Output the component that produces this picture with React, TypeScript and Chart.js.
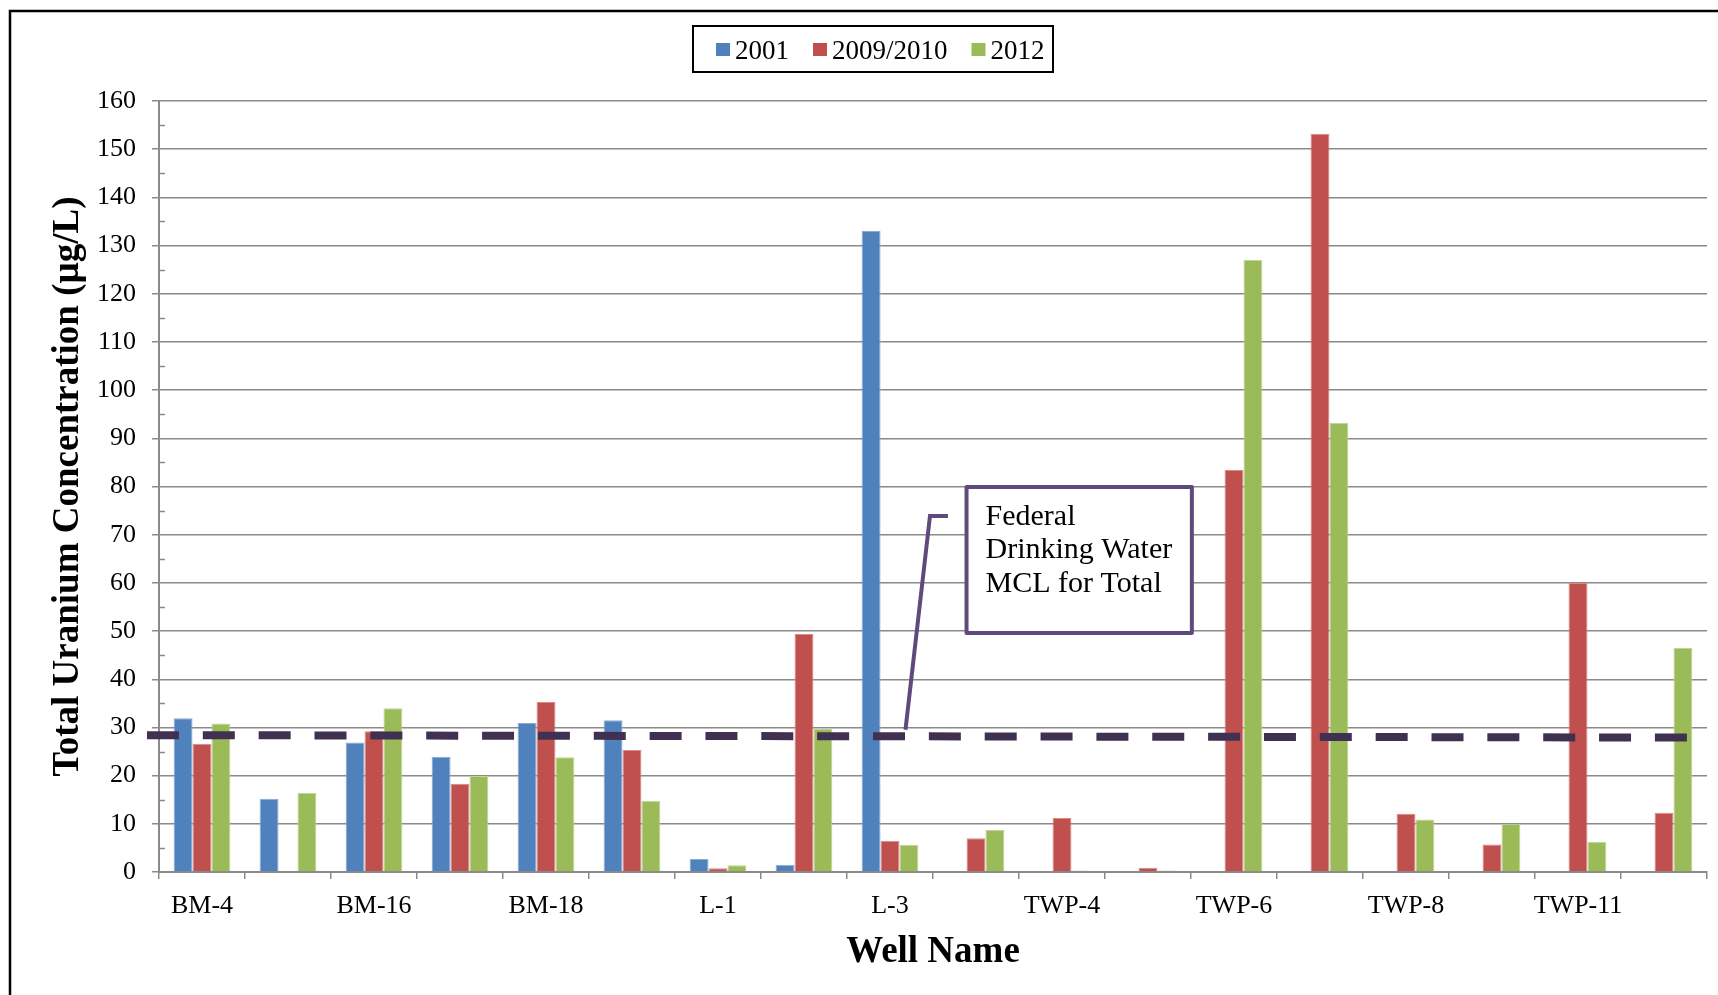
import React, { useEffect, useRef } from "react";
import { Chart, registerables } from "chart.js";

Chart.register(...registerables);

// ---------- data ----------
const WELLS = [
  "BM-4", "BM-8", "BM-16", "BM-17", "BM-18", "BM-19",
  "L-1", "L-2", "L-3", "TWP-3", "TWP-4", "TWP-5",
  "TWP-6", "TWP-7", "TWP-8", "TWP-10", "TWP-11", "TWP-12",
];
const SERIES_NAMES = ["2001", "2009/2010", "2012"];
const U_2001 = [31.9, 15.2, 26.9, 23.9, 30.9, 31.5, 2.7, 1.5, 133.0, null, null, null, null, null, null, null, null, null];
const U_2009 = [26.6, null, 29.2, 18.3, 35.3, 25.3, 0.8, 49.4, 6.5, 7.0, 11.2, 0.9, 83.4, 153.2, 12.1, 5.7, 60.0, 12.3];
const U_2012 = [30.8, 16.4, 34.0, 19.9, 23.8, 14.8, 1.4, 29.7, 5.6, 8.7, 0.3, 0.3, 127.0, 93.2, 10.9, 10.0, 6.3, 46.5];
const Y_MIN = 0;
const Y_MAX = 160;
const Y_STEP = 10;
// MCL dashed reference line (category-index units, value units)
const MCL_X = [-0.64, 17.31];
const MCL_Y = [28.4, 27.9];
// call-out annotation (category-index units, value units)
const NOTE_LINES = ["Federal", "Drinking Water", "MCL for Total"];
const NOTE_BOX_X = [8.89, 11.51];
const NOTE_BOX_Y = [79.9, 49.6];
const NOTE_LEADER_X = [8.674, 8.465, 8.18];
const NOTE_LEADER_Y = [73.9, 73.9, 29.5];

// ---------- styles ----------
const FONT = "'Liberation Serif', 'Times New Roman', serif";
const COLORS = ["#4f81bd", "#c0504d", "#9bbb59"];
const EDGES = ["#8eaad3", "#d98886", "#c0d596"];
const GRID = "#8a8a8a";
const PURPLE = "#604a7b";
const DASH = "#403152";

const decorPlugin = {
  id: "decor",
  beforeDraw(chart: any) {
    const { ctx, width, height } = chart;
    ctx.save();
    ctx.fillStyle = "#ffffff";
    ctx.fillRect(0, 0, width, height);
    ctx.restore();
  },
  afterDatasetsDraw(chart: any) {
    const { ctx, chartArea } = chart;
    const x = chart.scales.x;
    const y = chart.scales.y;
    ctx.save();
    // minor ticks (inside) at the 5s
    ctx.strokeStyle = GRID;
    ctx.lineWidth = 1.5;
    for (let v = Y_MIN + Y_STEP / 2; v < Y_MAX; v += Y_STEP) {
      const py = Math.round(y.getPixelForValue(v)) + 0.5;
      ctx.beginPath();
      ctx.moveTo(chartArea.left, py);
      ctx.lineTo(chartArea.left + 6, py);
      ctx.stroke();
    }
    // dashed MCL line
    ctx.strokeStyle = DASH;
    ctx.lineWidth = 8;
    ctx.lineCap = "butt";
    ctx.setLineDash([32, 23.85]);
    ctx.beginPath();
    ctx.moveTo(x.getPixelForValue(MCL_X[0]), y.getPixelForValue(MCL_Y[0]));
    ctx.lineTo(x.getPixelForValue(MCL_X[1]), y.getPixelForValue(MCL_Y[1]));
    ctx.stroke();
    ctx.setLineDash([]);

    // leader line of the call-out
    ctx.strokeStyle = PURPLE;
    ctx.lineWidth = 4;
    ctx.lineJoin = "miter";
    ctx.beginPath();
    NOTE_LEADER_X.forEach((xi, i) => {
      const px = x.getPixelForValue(xi);
      const py = y.getPixelForValue(NOTE_LEADER_Y[i]);
      if (i === 0) ctx.moveTo(px, py);
      else ctx.lineTo(px, py);
    });
    ctx.stroke();

    // call-out box
    const bx0 = x.getPixelForValue(NOTE_BOX_X[0]);
    const bx1 = x.getPixelForValue(NOTE_BOX_X[1]);
    const by0 = y.getPixelForValue(NOTE_BOX_Y[0]);
    const by1 = y.getPixelForValue(NOTE_BOX_Y[1]);
    ctx.fillStyle = "#ffffff";
    ctx.fillRect(bx0, by0, bx1 - bx0, by1 - by0);
    ctx.lineWidth = 4;
    ctx.strokeStyle = PURPLE;
    ctx.lineJoin = "round";
    ctx.strokeRect(bx0, by0, bx1 - bx0, by1 - by0);
    ctx.fillStyle = "#000000";
    ctx.font = `30px ${FONT}`;
    ctx.textAlign = "left";
    ctx.textBaseline = "alphabetic";
    NOTE_LINES.forEach((t, i) => {
      ctx.fillText(t, bx0 + 19, by0 + 38 + i * 33.5);
    });
    ctx.restore();
  },
  afterDraw(chart: any) {
    const { ctx, width, height } = chart;
    ctx.save();
    // legend with border
    const L = { left: 693, top: 26, right: 1053, bottom: 72 };
    ctx.fillStyle = "#ffffff";
    ctx.fillRect(L.left, L.top, L.right - L.left, L.bottom - L.top);
    ctx.strokeStyle = "#000000";
    ctx.lineWidth = 2;
    ctx.strokeRect(L.left, L.top, L.right - L.left, L.bottom - L.top);
    ctx.font = `27px ${FONT}`;
    ctx.textBaseline = "alphabetic";
    ctx.textAlign = "left";
    let cx = L.left + 23;
    chart.data.datasets.forEach((ds: any, i: number) => {
      ctx.fillStyle = COLORS[i];
      ctx.fillRect(cx, 43, 14, 13);
      cx += 19;
      ctx.fillStyle = "#000000";
      ctx.fillText(ds.label, cx, 59);
      cx += ctx.measureText(ds.label).width + 24;
    });
    // outer frame (left and top edges visible)
    ctx.strokeStyle = "#000000";
    ctx.lineWidth = 2.5;
    ctx.beginPath();
    ctx.moveTo(10, height + 5);
    ctx.lineTo(10, 11);
    ctx.lineTo(width + 5, 11);
    ctx.stroke();
    ctx.restore();
  },
};

export default function App() {
  const ref = useRef<HTMLCanvasElement>(null);
  useEffect(() => {
    if (!ref.current) return;
    const chart = new Chart(ref.current, {
      type: "bar",
      data: {
        labels: WELLS,
        datasets: [U_2001, U_2009, U_2012].map((vals, i) => ({
          label: SERIES_NAMES[i],
          data: vals,
          backgroundColor: COLORS[i],
          borderColor: EDGES[i],
          borderWidth: 1,
          categoryPercentage: 0.66,
          barPercentage: 1.0,
        })),
      },
      options: {
        responsive: false,
        devicePixelRatio: 1,
        animation: false,
        layout: { padding: { top: 101, right: 11, bottom: 0, left: 0 } },
        plugins: {
          legend: { display: false },
          tooltip: { enabled: false },
          title: { display: false },
        },
        scales: {
          x: {
            afterFit: (s: any) => {
              s.height = 123;
            },
            grid: {
              display: true,
              drawOnChartArea: false,
              drawTicks: true,
              tickLength: 7,
              color: GRID,
              lineWidth: 1.5,
              offset: true,
            },
            border: { display: true, color: GRID, width: 2 },
            ticks: {
              autoSkip: false,
              maxRotation: 0,
              minRotation: 0,
              padding: 12,
              color: "#000000",
              font: { family: FONT, size: 26 },
              callback: (_v: any, idx: number) => (idx % 2 === 0 ? WELLS[idx] : ""),
            },
            title: {
              display: true,
              text: "Well Name",
              color: "#000000",
              font: { family: FONT, size: 37, weight: "bold" },
              padding: { top: 0, bottom: 20 },
            },
          },
          y: {
            min: Y_MIN,
            max: Y_MAX,
            afterFit: (s: any) => {
              s.width = 159;
            },
            grid: {
              display: true,
              drawTicks: true,
              tickLength: 7,
              color: GRID,
              lineWidth: 1.5,
            },
            border: { display: true, color: GRID, width: 2 },
            ticks: {
              stepSize: Y_STEP,
              padding: 16,
              color: "#000000",
              font: { family: FONT, size: 26 },
            },
            title: {
              display: true,
              text: "Total Uranium Concentration (µg/L)",
              color: "#000000",
              font: { family: FONT, size: 37, weight: "bold" },
              padding: { top: 46, bottom: 0 },
            },
          },
        },
      },
      plugins: [decorPlugin],
    } as any);
    return () => chart.destroy();
  }, []);
  return (
    <div style={{ position: "fixed", left: 0, top: 0, width: 1718, height: 995, background: "#fff" }}>
      <canvas ref={ref} width={1718} height={995} style={{ width: 1718, height: 995, display: "block" }} />
    </div>
  );
}
